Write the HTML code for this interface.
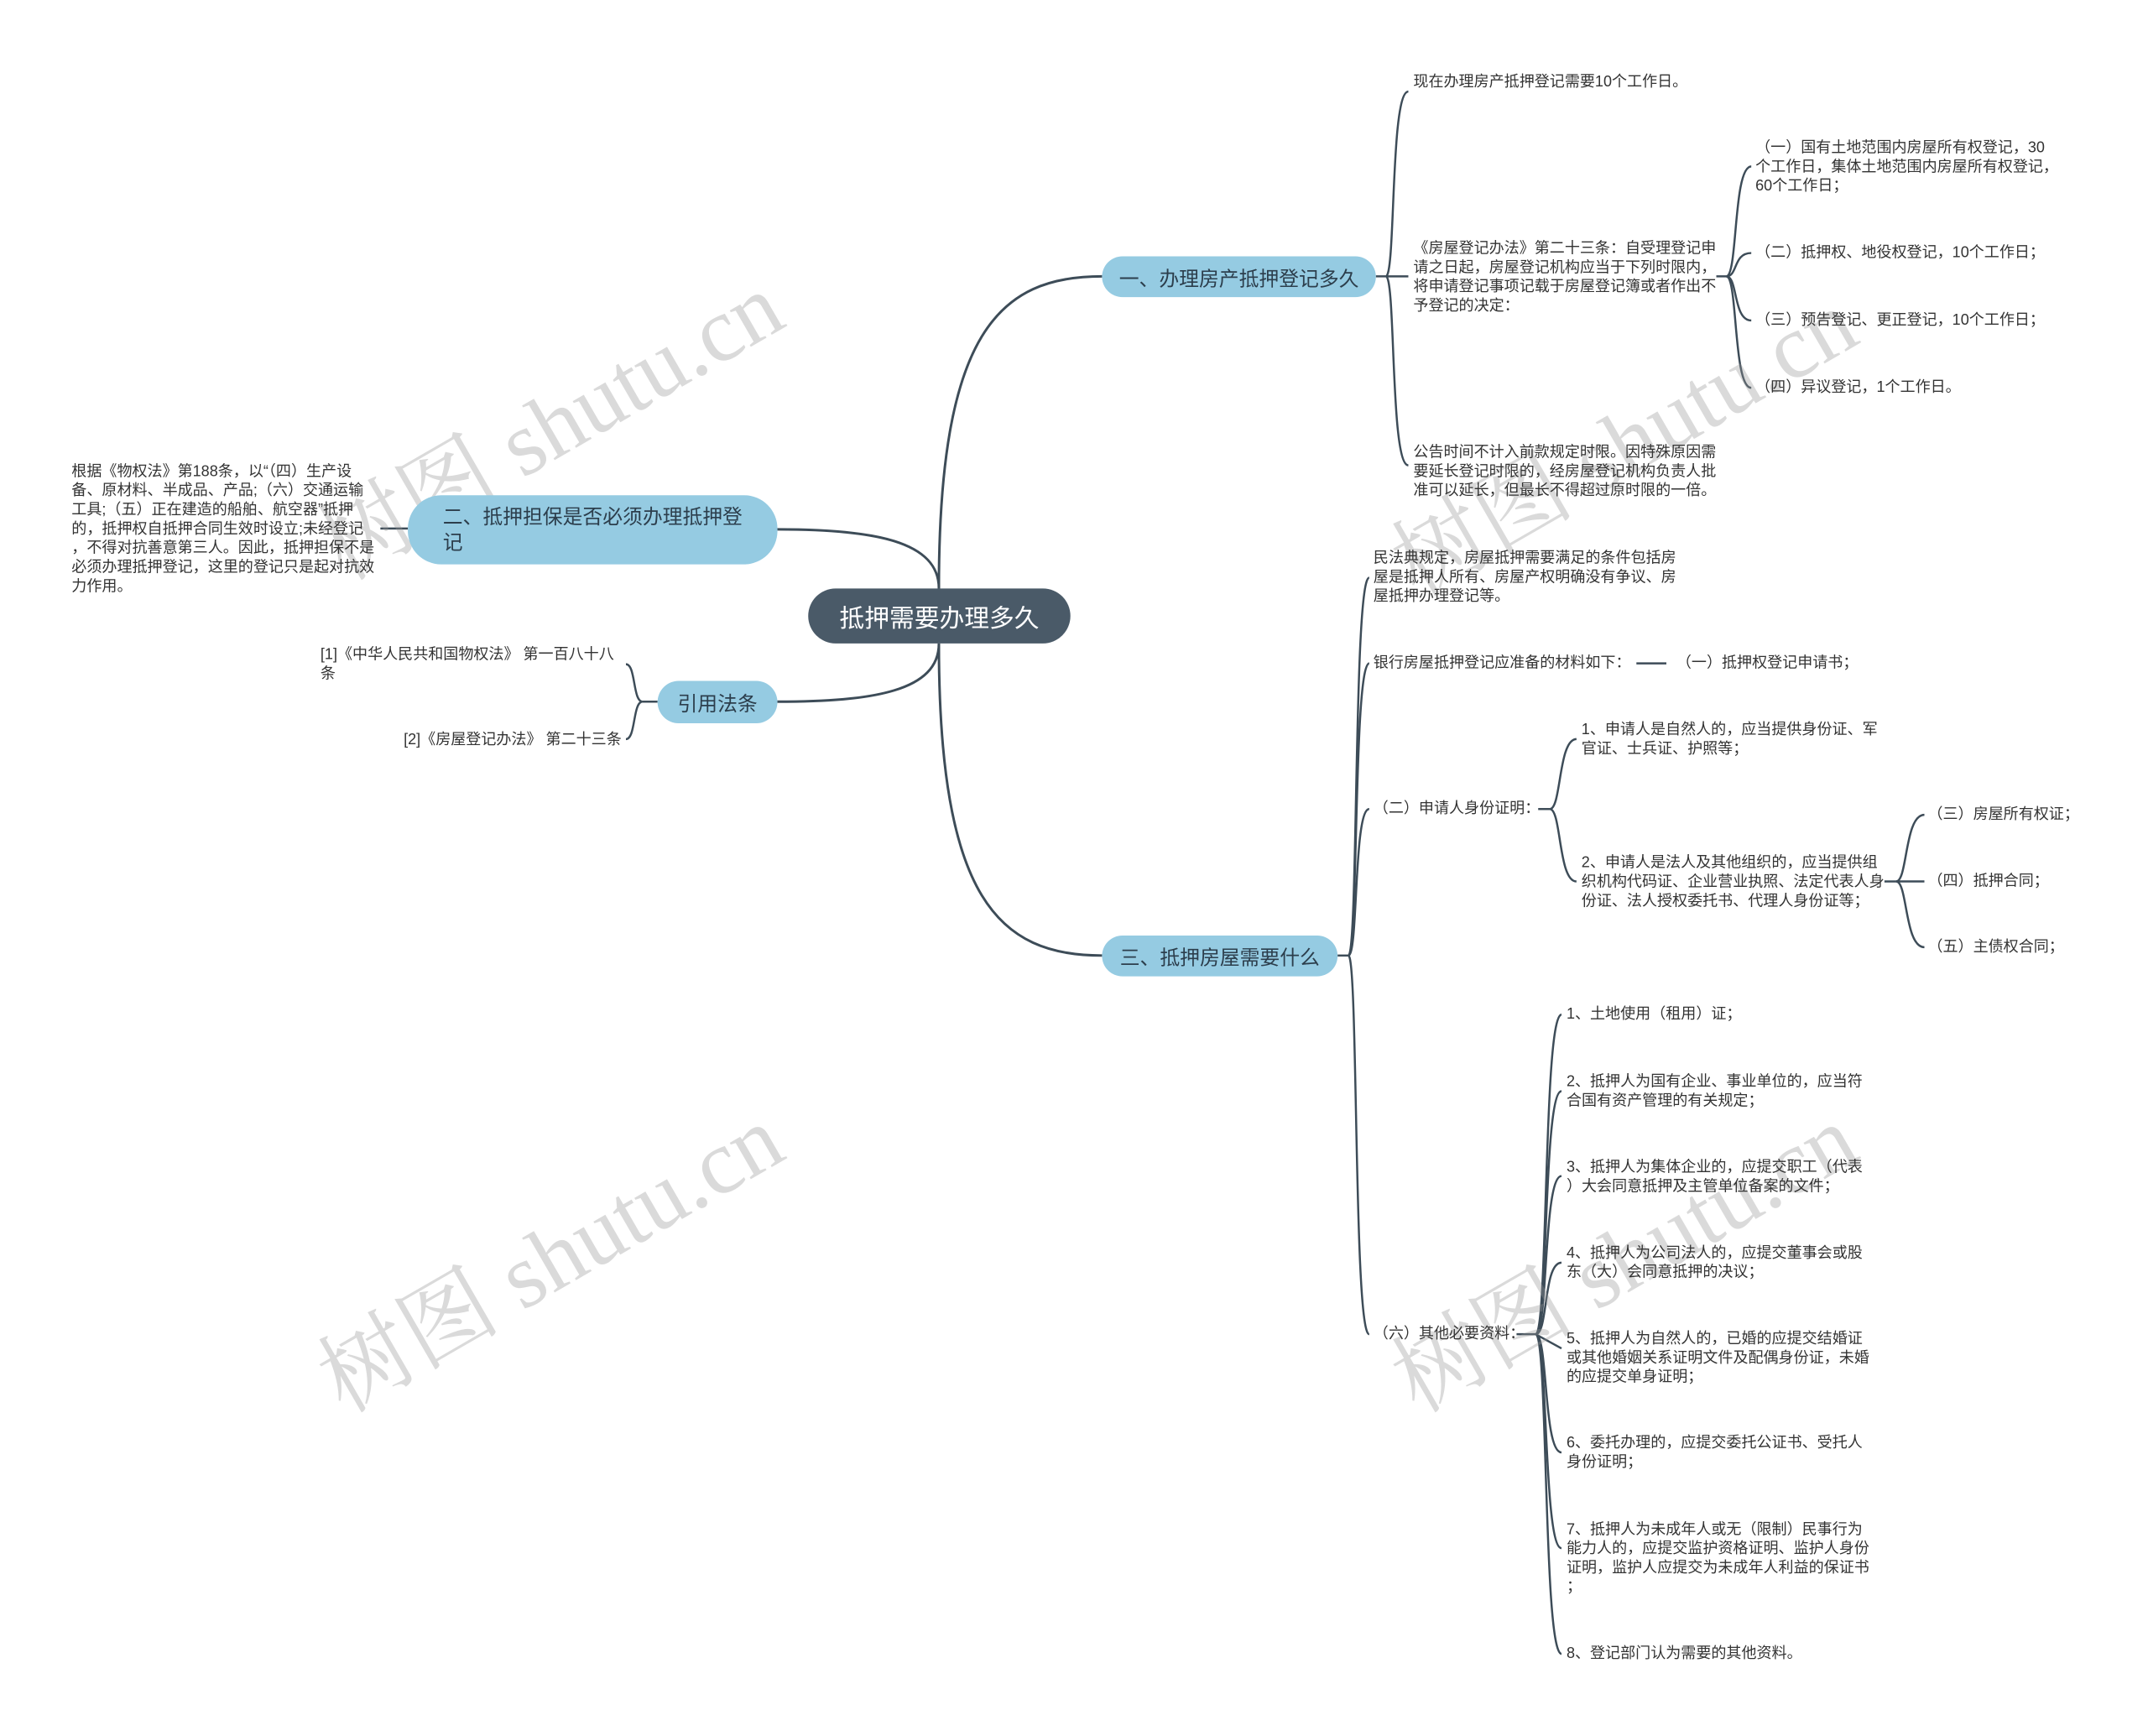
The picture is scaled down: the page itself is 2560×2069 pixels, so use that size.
<!DOCTYPE html>
<html><head><meta charset="utf-8"><style>
body{margin:0;background:#fff;}
#o{position:relative;width:2560px;height:2069px;overflow:hidden;}
#c{position:absolute;left:0;top:0;width:2580px;height:2090px;transform:scale(0.992);transform-origin:0 0;font-family:"Liberation Sans","Noto Sans CJK SC",sans-serif;}
.t{position:absolute;font-size:18.2px;line-height:23px;color:#333;white-space:nowrap;}
.b{position:absolute;background:#95cbe2;border-radius:26px;color:#2c3e4c;font-size:24px;display:flex;align-items:center;box-sizing:border-box;}
.wm{position:absolute;font-family:"Liberation Serif","Noto Serif CJK SC",serif;font-size:110px;color:rgba(150,150,150,0.35);transform:rotate(-30deg);transform-origin:left top;white-space:nowrap;}
</style></head><body><div id="o"><div id="c">
<svg width="2580" height="2090" style="position:absolute;left:0;top:0" fill="none" stroke="#3d4c58" stroke-width="3">
<path d="M1128,707 C1128,400 1200,332 1324,332"/>
<path d="M1128,773 C1128,1080 1200,1148 1324,1148"/>
<path d="M1128,707 C1128,650 1050,636 934,636"/>
<path d="M1128,773 C1128,830 1050,843 934,843"/>
<g stroke-width="2.5">
<path d="M1653,332 L1665,332"/>
<path d="M1665,332 C1677,332 1670,110 1692,110"/>
<path d="M1665,332 L1692,332"/>
<path d="M1665,332 C1677,332 1670,559 1692,559"/>
<path d="M2062,332 L2074,332"/>
<path d="M2074,332 C2088,332 2082,200 2104,200"/>
<path d="M2074,332 C2088,332 2082,304 2104,304"/>
<path d="M2074,332 C2088,332 2082,385 2104,385"/>
<path d="M2074,332 C2088,332 2082,466 2104,466"/>
<path d="M1607,1148 L1620,1148"/>
<path d="M1620,1148 C1632,1148 1626,694 1645,694"/>
<path d="M1620,1148 C1632,1148 1626,797 1645,797"/>
<path d="M1620,1148 C1632,1148 1626,972 1645,972"/>
<path d="M1620,1148 C1632,1148 1626,1603 1645,1603"/>
<path d="M1966,797 L2002,797"/>
<path d="M1848,972 L1862,972"/>
<path d="M1862,972 C1876,972 1872,888 1894,888"/>
<path d="M1862,972 C1876,972 1872,1059 1894,1059"/>
<path d="M2264,1059 L2278,1059"/>
<path d="M2278,1059 C2292,1059 2288,979 2312,979"/>
<path d="M2278,1059 L2312,1059"/>
<path d="M2278,1059 C2292,1059 2288,1138 2312,1138"/>
<path d="M1822,1603 L1845,1603"/>
<path d="M1845,1603 C1860,1603 1854,1219 1876,1219"/>
<path d="M1845,1603 C1860,1603 1854,1311 1876,1311"/>
<path d="M1845,1603 C1860,1603 1854,1413 1876,1413"/>
<path d="M1845,1603 C1860,1603 1854,1517 1876,1517"/>
<path d="M1845,1603 L1876,1620"/>
<path d="M1845,1603 C1860,1603 1854,1745 1876,1745"/>
<path d="M1845,1603 C1860,1603 1854,1860 1876,1860"/>
<path d="M1845,1603 C1860,1603 1854,1987 1876,1987"/>
<path d="M457,635 L490,635"/>
<path d="M790,843 L772,843"/>
<path d="M772,843 C760,843 764,798 752,798"/>
<path d="M772,843 C760,843 764,888 752,888"/>
</g>
</svg>
<div class="wm" style="left:350px;top:590px">树图 shutu.cn</div>
<div class="wm" style="left:350px;top:1590px">树图 shutu.cn</div>
<div class="wm" style="left:1640px;top:610px">树图 shutu.cn</div>
<div class="wm" style="left:1640px;top:1590px">树图 shutu.cn</div>

<div class="b" style="left:971px;top:707px;width:315px;height:66px;background:#4a5a68;color:#fff;font-size:30px;border-radius:33px;justify-content:center">抵押需要办理多久</div>
<div class="b" style="left:1324px;top:308px;width:329px;height:49px;justify-content:center">一、办理房产抵押登记多久</div>
<div class="b" style="left:1324px;top:1124px;width:283px;height:49px;justify-content:center">三、抵押房屋需要什么</div>
<div class="b" style="left:490px;top:595px;width:444px;height:83px;padding-left:42px;line-height:31px;border-radius:40px">二、抵押担保是否必须办理抵押登<br>记</div>
<div class="b" style="left:790px;top:818px;width:144px;height:51px;justify-content:center">引用法条</div>

<div class="t" style="left:86px;top:555px">根据《物权法》第188条，以“（四）生产设<br>备、原材料、半成品、产品;（六）交通运输<br>工具;（五）正在建造的船舶、航空器”抵押<br>的，抵押权自抵押合同生效时设立;未经登记<br>，不得对抗善意第三人。因此，抵押担保不是<br>必须办理抵押登记，这里的登记只是起对抗效<br>力作用。</div>
<div class="t" style="left:385px;top:775px">[1]《中华人民共和国物权法》 第一百八十八<br>条</div>
<div class="t" style="left:485px;top:877px">[2]《房屋登记办法》 第二十三条</div>

<div class="t" style="left:1698px;top:87px">现在办理房产抵押登记需要10个工作日。</div>
<div class="t" style="left:1698px;top:287px">《房屋登记办法》第二十三条：自受理登记申<br>请之日起，房屋登记机构应当于下列时限内，<br>将申请登记事项记载于房屋登记簿或者作出不<br>予登记的决定：</div>
<div class="t" style="left:1698px;top:532px">公告时间不计入前款规定时限。因特殊原因需<br>要延长登记时限的，经房屋登记机构负责人批<br>准可以延长，但最长不得超过原时限的一倍。</div>
<div class="t" style="left:2109px;top:166px">（一）国有土地范围内房屋所有权登记，30<br>个工作日，集体土地范围内房屋所有权登记，<br>60个工作日；</div>
<div class="t" style="left:2109px;top:292px">（二）抵押权、地役权登记，10个工作日；</div>
<div class="t" style="left:2109px;top:373px">（三）预告登记、更正登记，10个工作日；</div>
<div class="t" style="left:2109px;top:454px">（四）异议登记，1个工作日。</div>

<div class="t" style="left:1650px;top:659px">民法典规定，房屋抵押需要满足的条件包括房<br>屋是抵押人所有、房屋产权明确没有争议、房<br>屋抵押办理登记等。</div>
<div class="t" style="left:1650px;top:785px">银行房屋抵押登记应准备的材料如下：</div>
<div class="t" style="left:2014px;top:785px">（一）抵押权登记申请书；</div>
<div class="t" style="left:1650px;top:960px">（二）申请人身份证明：</div>
<div class="t" style="left:1900px;top:865px">1、申请人是自然人的，应当提供身份证、军<br>官证、士兵证、护照等；</div>
<div class="t" style="left:1900px;top:1025px">2、申请人是法人及其他组织的，应当提供组<br>织机构代码证、企业营业执照、法定代表人身<br>份证、法人授权委托书、代理人身份证等；</div>
<div class="t" style="left:2316px;top:967px">（三）房屋所有权证；</div>
<div class="t" style="left:2316px;top:1047px">（四）抵押合同；</div>
<div class="t" style="left:2316px;top:1126px">（五）主债权合同；</div>
<div class="t" style="left:1650px;top:1591px">（六）其他必要资料：</div>
<div class="t" style="left:1882px;top:1207px">1、土地使用（租用）证；</div>
<div class="t" style="left:1882px;top:1288px">2、抵押人为国有企业、事业单位的，应当符<br>合国有资产管理的有关规定；</div>
<div class="t" style="left:1882px;top:1391px">3、抵押人为集体企业的，应提交职工（代表<br>）大会同意抵押及主管单位备案的文件；</div>
<div class="t" style="left:1882px;top:1494px">4、抵押人为公司法人的，应提交董事会或股<br>东（大）会同意抵押的决议；</div>
<div class="t" style="left:1882px;top:1597px">5、抵押人为自然人的，已婚的应提交结婚证<br>或其他婚姻关系证明文件及配偶身份证，未婚<br>的应提交单身证明；</div>
<div class="t" style="left:1882px;top:1722px">6、委托办理的，应提交委托公证书、受托人<br>身份证明；</div>
<div class="t" style="left:1882px;top:1826px">7、抵押人为未成年人或无（限制）民事行为<br>能力人的，应提交监护资格证明、监护人身份<br>证明，监护人应提交为未成年人利益的保证书<br>；</div>
<div class="t" style="left:1882px;top:1975px">8、登记部门认为需要的其他资料。</div>
</div></div></body></html>
